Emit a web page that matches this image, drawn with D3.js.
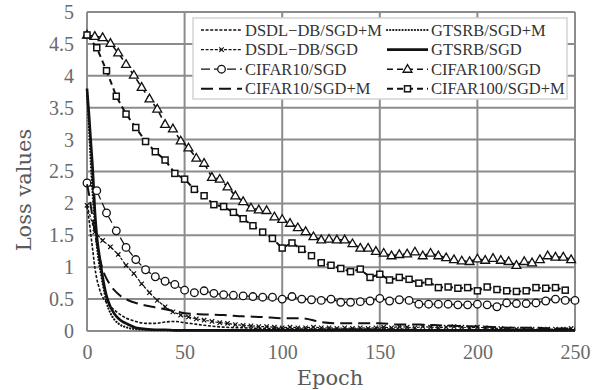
<!DOCTYPE html>
<html>
<head>
<meta charset="utf-8">
<script src="https://cdn.jsdelivr.net/npm/d3@7"></script>
<style>
  html, body { margin: 0; padding: 0; background: #fff; }
  svg { display: block; }
</style>
</head>
<body>
<div id="chart"></div>
<script>
// epochs (x positions of the logged points)
const epochs4 = d3.range(0, 249, 4);
const epochs5 = d3.range(0, 251, 5);
const epochsFine = [0, 1, 2, 3, 4, 5, 6, 7, 8, 10, 12, 14, 16, 18, 20, 22, 25, 30, 35, 40, 45, 50,
  60, 70, 80, 90, 100, 110, 120, 130, 140, 150, 160, 170, 180, 190, 200, 210, 220, 230, 240, 250];

const xTicks = [0, 50, 100, 150, 200, 250];
const yTicks = [0, 0.5, 1, 1.5, 2, 2.5, 3, 3.5, 4, 4.5, 5];

// loss values
const dsdlSgdM = [1.95, 1.75, 1.5, 1.25, 1.0, 0.82, 0.7, 0.6, 0.53, 0.45, 0.38, 0.33, 0.28, 0.24, 0.2, 0.18, 0.15, 0.12, 0.12, 0.14, 0.15, 0.13,
  0.09, 0.06, 0.05, 0.04, 0.04, 0.03, 0.03, 0.03, 0.03, 0.03, 0.03, 0.02, 0.02, 0.02, 0.02, 0.02, 0.02, 0.02, 0.02, 0.02];
const gtsrbSgdM = [3.78, 3.2, 2.6, 2.1, 1.7, 1.35, 1.1, 0.92, 0.75, 0.45, 0.28, 0.18, 0.12, 0.08, 0.06, 0.04, 0.03, 0.02, 0.01, 0.01, 0.01, 0.01,
  0.01, 0.01, 0.01, 0.01, 0.01, 0.01, 0.01, 0.01, 0.01, 0.01, 0.01, 0.01, 0.01, 0.01, 0.01, 0.01, 0.01, 0.01, 0.01, 0.01];
const gtsrbSgd = [3.80, 3.4, 2.95, 2.5, 1.9, 1.5, 1.25, 1.05, 0.85, 0.55, 0.38, 0.27, 0.2, 0.15, 0.12, 0.09, 0.05, 0.03, 0.02, 0.02, 0.01, 0.01,
  0.01, 0.01, 0.01, 0.01, 0.01, 0.01, 0.01, 0.01, 0.01, 0.01, 0.01, 0.01, 0.01, 0.01, 0.01, 0.01, 0.01, 0.01, 0.01, 0.01];
const cifar10SgdM = [2.3, 2.15, 1.95, 1.75, 1.55, 1.38, 1.22, 1.08, 0.97, 0.82, 0.72, 0.64, 0.58, 0.53, 0.5, 0.47, 0.44, 0.40, 0.37, 0.34, 0.31, 0.28,
  0.26, 0.25, 0.23, 0.22, 0.2, 0.2, 0.14, 0.12, 0.12, 0.12, 0.1, 0.1, 0.09, 0.08, 0.07, 0.06, 0.05, 0.05, 0.04, 0.04];

const dsdlSgd = [1.97, 1.55, 1.42, 1.32, 1.20, 1.03, 0.90, 0.74, 0.60, 0.48, 0.38, 0.30, 0.25, 0.22, 0.19, 0.17, 0.15, 0.13, 0.12, 0.10,
  0.09, 0.08, 0.07, 0.07, 0.06, 0.05, 0.06, 0.05, 0.05, 0.06, 0.05, 0.05, 0.04, 0.05, 0.04, 0.05, 0.04, 0.05, 0.06, 0.05,
  0.07, 0.06, 0.05, 0.07, 0.06, 0.05, 0.06, 0.07, 0.06, 0.05, 0.06, 0.05, 0.04, 0.04, 0.03, 0.03, 0.03, 0.03, 0.03, 0.03,
  0.03, 0.03, 0.04];
const cifar100Sgd = [4.64, 4.62, 4.60, 4.51, 4.36, 4.18, 4.01, 3.82, 3.64, 3.48, 3.24, 3.17, 2.98, 2.87, 2.71, 2.63, 2.41, 2.38, 2.26, 2.12,
  2.03, 1.93, 1.90, 1.89, 1.79, 1.75, 1.69, 1.62, 1.56, 1.48, 1.43, 1.44, 1.43, 1.43, 1.37, 1.30, 1.30, 1.25, 1.22, 1.18,
  1.20, 1.21, 1.24, 1.18, 1.22, 1.18, 1.15, 1.12, 1.10, 1.09, 1.13, 1.11, 1.14, 1.11, 1.09, 1.03, 1.09, 1.07, 1.12, 1.18,
  1.16, 1.16, 1.12];
const cifar10Sgd = [2.32, 2.20, 1.85, 1.57, 1.31, 1.12, 0.96, 0.85, 0.78, 0.73, 0.64, 0.60, 0.63, 0.59, 0.57, 0.56, 0.55, 0.54, 0.53, 0.53,
  0.50, 0.54, 0.50, 0.49, 0.48, 0.50, 0.45, 0.45, 0.46, 0.47, 0.51, 0.47, 0.49, 0.48, 0.42, 0.42, 0.42, 0.42, 0.41, 0.41,
  0.42, 0.41, 0.38, 0.44, 0.43, 0.43, 0.44, 0.47, 0.50, 0.48, 0.48];
const cifar100SgdM = [4.64, 4.44, 4.08, 3.68, 3.40, 3.19, 2.97, 2.81, 2.68, 2.47, 2.38, 2.22, 2.12, 1.98, 1.95, 1.86, 1.76, 1.65, 1.55, 1.45,
  1.30, 1.38, 1.28, 1.18, 1.07, 1.03, 0.98, 0.93, 0.97, 0.84, 0.89, 0.80, 0.84, 0.81, 0.75, 0.77, 0.68, 0.69, 0.67, 0.68,
  0.63, 0.69, 0.65, 0.63, 0.62, 0.63, 0.68, 0.67, 0.68, 0.64];

const series = [
  { name: 'DSDL\u2212DB/SGD+M', x: epochsFine, y: dsdlSgdM, dash: '3,1.6', width: 1.6, curve: d3.curveMonotoneX },
  { name: 'GTSRB/SGD+M', x: epochsFine, y: gtsrbSgdM, dash: '0.1,3', width: 2.2, cap: 'round', curve: d3.curveMonotoneX },
  { name: 'DSDL\u2212DB/SGD', x: epochs4, y: dsdlSgd, dash: '3,1.6', width: 1.2, marker: 'x', curve: d3.curveLinear },
  { name: 'GTSRB/SGD', x: epochsFine, y: gtsrbSgd, dash: null, width: 2.6, curve: d3.curveMonotoneX },
  { name: 'CIFAR10/SGD', x: epochs5, y: cifar10Sgd, dash: '9,4', width: 1.2, marker: 'circle', curve: d3.curveLinear },
  { name: 'CIFAR100/SGD', x: epochs4, y: cifar100Sgd, dash: '6,4', width: 1.6, marker: 'triangle', curve: d3.curveLinear },
  { name: 'CIFAR10/SGD+M', x: epochsFine, y: cifar10SgdM, dash: '12,6', width: 2, curve: d3.curveMonotoneX },
  { name: 'CIFAR100/SGD+M', x: epochs5, y: cifar100SgdM, dash: '6,4', width: 2, marker: 'square', curve: d3.curveLinear }
];

const W = 604, H = 390;
const margin = { top: 12, right: 29, bottom: 59, left: 87 };

const svg = d3.select('#chart').append('svg')
  .attr('width', W)
  .attr('height', H);

const x = d3.scaleLinear().domain([0, 250]).range([margin.left, W - margin.right]);
const y = d3.scaleLinear().domain([0, 5]).range([H - margin.bottom, margin.top]);

// grid
const grid = svg.append('g');
grid.selectAll('.hg').data(yTicks).enter().append('line')
  .attr('x1', x(0)).attr('x2', x(250))
  .attr('y1', d => y(d)).attr('y2', d => y(d))
  .attr('stroke', '#8c8c8c').attr('stroke-width', 2);
grid.selectAll('.vg').data(xTicks).enter().append('line')
  .attr('x1', d => x(d)).attr('x2', d => x(d))
  .attr('y1', y(0)).attr('y2', y(5))
  .attr('stroke', '#8c8c8c').attr('stroke-width', 2);

// axes (labels only)
const xAxis = svg.append('g')
  .attr('transform', 'translate(0,' + (y(0) + 6) + ')')
  .call(d3.axisBottom(x).tickValues(xTicks).tickSize(0).tickPadding(8));
const yAxis = svg.append('g')
  .attr('transform', 'translate(' + (x(0) - 10) + ',0)')
  .call(d3.axisLeft(y).tickValues(yTicks).tickSize(0).tickPadding(3).tickFormat(d3.format('')));
[xAxis, yAxis].forEach(a => {
  a.select('.domain').remove();
  a.selectAll('text')
    .attr('fill', '#6a6a6a')
    .style('font-family', '"Liberation Serif", serif')
    .style('font-size', '20px');
});

// titles
svg.append('text')
  .attr('x', 330).attr('y', 385)
  .attr('text-anchor', 'middle')
  .attr('fill', '#5a5a5a')
  .style('font-family', '"DejaVu Serif", serif')
  .style('font-size', '21px')
  .text('Epoch');
svg.append('text')
  .attr('transform', 'translate(31,190) rotate(-90)')
  .attr('text-anchor', 'middle')
  .attr('fill', '#5a5a5a')
  .style('font-family', '"DejaVu Serif", serif')
  .style('font-size', '21px')
  .text('Loss values');

function drawMarker(g, type, px, py) {
  if (type === 'circle') {
    g.append('circle').attr('cx', px).attr('cy', py).attr('r', 3.8)
      .attr('fill', '#fff').attr('stroke', '#111').attr('stroke-width', 1.3);
  } else if (type === 'triangle') {
    g.append('path').attr('d', d3.symbol(d3.symbolTriangle, 34)())
      .attr('transform', 'translate(' + px + ',' + (py + 0.5) + ')')
      .attr('fill', '#fff').attr('stroke', '#111').attr('stroke-width', 1.3);
  } else if (type === 'square') {
    g.append('rect').attr('x', px - 3).attr('y', py - 3).attr('width', 6).attr('height', 6)
      .attr('fill', '#fff').attr('stroke', '#111').attr('stroke-width', 1.5);
  } else if (type === 'x') {
    g.append('path').attr('d', 'M' + (px - 2.2) + ',' + (py - 2.2) + 'L' + (px + 2.2) + ',' + (py + 2.2) +
      'M' + (px - 2.2) + ',' + (py + 2.2) + 'L' + (px + 2.2) + ',' + (py - 2.2))
      .attr('stroke', '#111').attr('stroke-width', 1.2);
  }
}

// lines
const plot = svg.append('g');
series.forEach(s => {
  const pts = s.y.map((v, i) => [s.x[i], v]);
  const line = d3.line().x(d => x(d[0])).y(d => y(d[1])).curve(s.curve);
  plot.append('path')
    .attr('d', line(pts))
    .attr('fill', 'none')
    .attr('stroke', '#111')
    .attr('stroke-width', s.width)
    .attr('stroke-linecap', s.cap || 'butt')
    .attr('stroke-dasharray', s.dash);
  if (s.marker) {
    const mg = plot.append('g');
    pts.forEach(p => drawMarker(mg, s.marker, x(p[0]), y(p[1])));
  }
});

// legend
const legend = svg.append('g');
legend.append('rect')
  .attr('x', 193).attr('y', 18).attr('width', 374).attr('height', 81)
  .attr('fill', '#fff').attr('stroke', '#d4d4d4').attr('stroke-width', 1.5);
series.forEach((s, i) => {
  const col = i % 2, row = Math.floor(i / 2);
  const lx = col === 0 ? 201 : 387;
  const ly = 30 + row * 19.6;
  const item = legend.append('g');
  item.append('line')
    .attr('x1', lx).attr('x2', lx + 41).attr('y1', ly).attr('y2', ly)
    .attr('stroke', '#111')
    .attr('stroke-width', s.width)
    .attr('stroke-linecap', s.cap || 'butt')
    .attr('stroke-dasharray', s.dash);
  if (s.marker) drawMarker(item, s.marker, lx + 20.5, ly);
  item.append('text')
    .attr('x', lx + 44).attr('y', ly + 5.5)
    .attr('fill', '#333')
    .style('font-family', '"Liberation Serif", serif')
    .style('font-size', '16.5px')
    .text(s.name);
});
</script>
</body>
</html>
